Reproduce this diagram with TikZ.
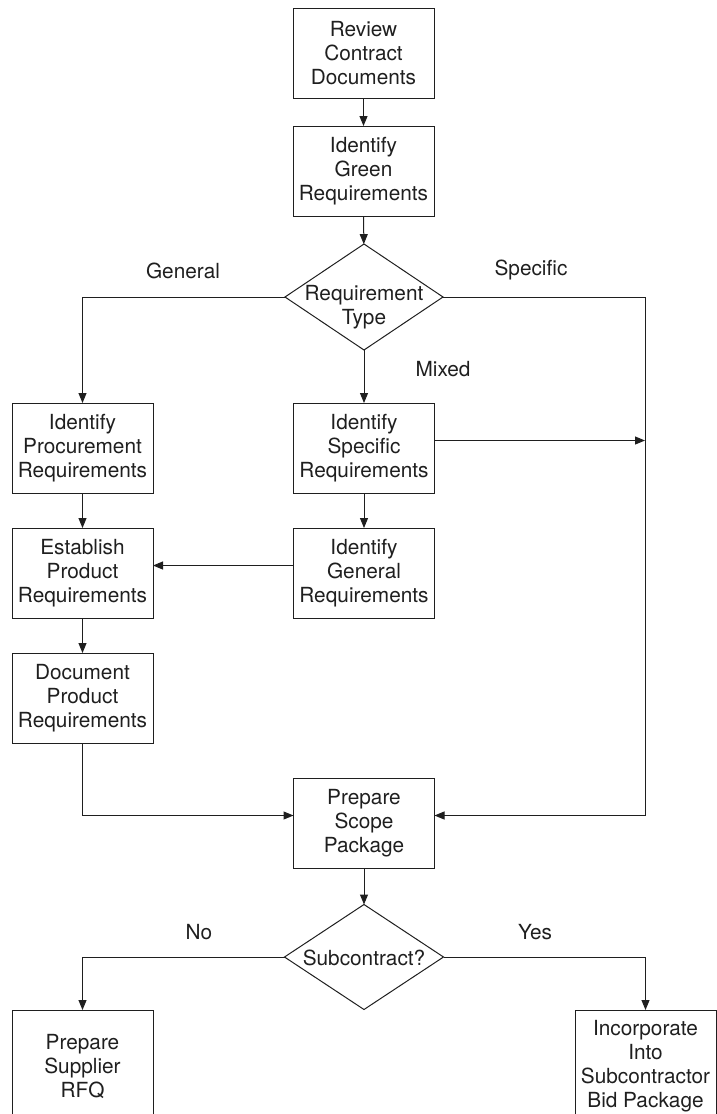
\documentclass[tikz,border=0pt]{standalone}
\usepackage{fontspec}
\setmainfont{TeX Gyre Heros}
\usetikzlibrary{arrows.meta,shapes.geometric}
\begin{document}
\begin{tikzpicture}[x=1pt,y=-1pt,
  font=\fontsize{20.8}{24}\selectfont,
  line width=1pt,color=black!88,
  procbox/.style={draw,rectangle,minimum width=141pt,minimum height=90pt,
    inner sep=0pt,outer sep=0pt,align=center},
  tallbox/.style={procbox,anchor=north,minimum height=112pt},
  decision/.style={draw,diamond,minimum width=158pt,minimum height=106pt,
    inner sep=0pt,outer sep=0pt},
  dectext/.style={inner sep=0pt,align=center},
  branch/.style={inner sep=0pt},
  flow/.style={-{Triangle[length=10pt,width=8pt]}}]
  \clip (0,0) rectangle (717,1114);

  % process steps
  \node[procbox] (review) at (363.5,53) {Review\\Contract\\Documents};
  \node[procbox] (green) at (363.5,171) {Identify\\Green\\Requirements};
  \node[decision] (type) at (364,297) {};
  \node[dectext] (typetext) at (364,307) {Requirement\\Type};

  \node[procbox] (procure) at (82.5,448) {Identify\\Procurement\\Requirements};
  \node[procbox] (specific) at (364,448) {Identify\\Specific\\Requirements};
  \node[procbox] (establish) at (82.5,573) {Establish\\Product\\Requirements};
  \node[procbox] (general) at (364,573) {Identify\\General\\Requirements};
  \node[procbox] (document) at (82.5,698) {Document\\Product\\Requirements};
  \node[procbox] (scope) at (364,823) {Prepare\\Scope\\Package};

  \node[decision,minimum width=159pt,minimum height=105pt] (sub) at (364,957) {};
  \node[dectext] (subtext) at (364,958) {Subcontract?};

  \node[tallbox] (rfq) at (82.5,1010) {Prepare\\Supplier\\RFQ};
  \node[tallbox] (bid) at (645.5,1010) {Incorporate\\Into\\Subcontractor\\Bid Package};

  % branch labels
  \node[branch] (lgen) at (183,271) {General};
  \node[branch] (lspec) at (531,270) {Specific};
  \node[branch] (lmix) at (443,369) {Mixed};
  \node[branch] (lno) at (199,932) {No};
  \node[branch] (lyes) at (535,932) {Yes};

  % right-hand collector line
  \coordinate (rtop) at (645,297);
  \coordinate (rmid) at (645,440.5);

  % connectors
  \draw[flow] (review) -- (green);
  \draw[flow] (green) -- (type);
  \draw[flow] (type.west) -| (procure.north);
  \draw[flow] (type) -- (specific);
  \draw[flow] (type.east) -- (rtop) |- ([yshift=7.5pt]scope.east);
  \draw[flow] ([yshift=7.5pt]specific.east) -- (rmid);
  \draw[flow] (procure) -- (establish);
  \draw[flow] (specific) -- (general);
  \draw[flow] ([yshift=7.5pt]general.west) -- ([yshift=7.5pt]establish.east);
  \draw[flow] (establish) -- (document);
  \draw[flow] (document.south) |- ([yshift=7.5pt]scope.west);
  \draw[flow] (scope) -- (sub);
  \draw[flow] (sub.west) -| (rfq.north);
  \draw[flow] (sub.east) -| (bid.north);
\end{tikzpicture}
\end{document}
